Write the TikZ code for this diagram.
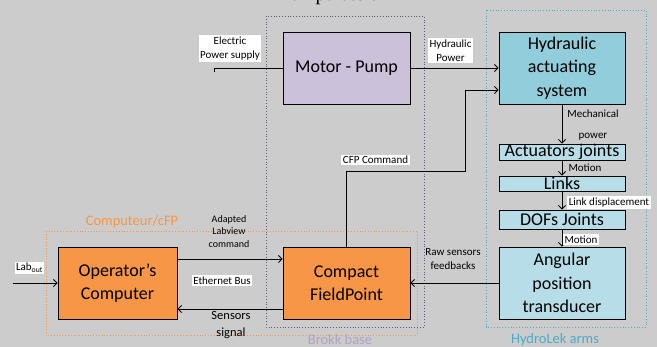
\documentclass[tikz,border=0pt]{standalone}
\usepackage{fontspec}
\setmainfont{Carlito}
\newfontfamily\titlefont{Liberation Serif}
\usepackage{tikz}
\usetikzlibrary{arrows.meta}
\definecolor{bggray}{RGB}{204,204,204}
\definecolor{lavender}{RGB}{204,193,218}
\definecolor{hydroblue}{RGB}{146,205,220}
\definecolor{lightblue}{RGB}{183,222,232}
\definecolor{cfporange}{RGB}{247,150,70}
\definecolor{brokkline}{RGB}{96,90,120}
\definecolor{brokktext}{RGB}{179,162,199}
\definecolor{armcyan}{RGB}{75,172,198}

\begin{document}
\begin{tikzpicture}[x=1pt,y=-1pt,
    block/.style={draw=black,line width=0.9pt,inner sep=0pt,align=center,font=\fontsize{18}{23.4}\selectfont},
    tag/.style={inner sep=1.5pt,align=center,font=\fontsize{11}{14}\selectfont},
    whitetag/.style={tag,fill=white},
    flow/.style={line width=0.8pt,-{Straight Barb[length=3.5pt,width=7pt]}},
    groupname/.style={font=\fontsize{14.5}{17}\selectfont}]
        % Background and page size
        \useasboundingbox (0,0) rectangle (657,347);
        \clip (0,0) rectangle (657,347);
        \fill[bggray] (0,0) rectangle (657,347);
        \node[font=\titlefont\fontsize{20}{24}\selectfont,anchor=base] (title) at (326,1) {manipulator.};
        % Draw group frames
        \draw[brokkline,dotted,line width=0.8pt] (266,16) rectangle (424,327);
        \draw[cfporange,dotted,line width=0.8pt] (46,231) rectangle (417,335);
        \draw[armcyan,dotted,line width=0.8pt] (486,10) rectangle (646,327);
        \node[groupname,text=cfporange] (grpcfp) at (132,222) {Computeur/cFP};
        \node[groupname,text=brokktext] (grpbrokk) at (340,340) {Brokk base};
        \node[groupname,text=armcyan] (grparms) at (555,340) {HydroLek arms};
        % Blocks
        \node[block,fill=lavender,minimum width=127,minimum height=72] (motor) at (346.5,68) {Motor - Pump};
        \node[block,fill=hydroblue,minimum width=126,minimum height=72] (hydro) at (562,68) {Hydraulic\\actuating\\system};
        \node[block,fill=lightblue,minimum width=126,minimum height=16] (actjoints) at (562,152) {Actuators joints};
        \node[block,fill=lightblue,minimum width=126,minimum height=15] (links) at (562,183.5) {Links};
        \node[block,fill=lightblue,minimum width=126,minimum height=19] (dofs) at (562,219.5) {DOFs Joints};
        \node[block,fill=lightblue,minimum width=126,minimum height=72] (angular) at (562,283) {Angular\\position\\transducer};
        \node[block,fill=cfporange,minimum width=127,minimum height=72] (cfp) at (346.5,283) {Compact\\FieldPoint};
        \node[block,fill=cfporange,minimum width=119,minimum height=72] (opcomp) at (117.5,283) {Operator's\\Computer};
        % Power chain
        \coordinate (elec) at (214,68);
        \draw[line width=0.8pt] ([yshift=-4pt]elec) -- (elec) -- (motor.west);
        \draw[flow] (motor) -- (hydro);
        \draw[flow] (hydro) -- (actjoints);
        \draw[flow] (actjoints) -- (links);
        \draw[flow] (links) -- (dofs);
        \draw[flow] (dofs) -- (angular);
        % Command and feedback loop
        \coordinate (cmdbend) at (465,171);
        \draw[flow] (cfp.north) |- (cmdbend) |- ([yshift=-22pt]hydro.west);
        \draw[flow] (angular) -- (cfp);
        \draw[flow] ([yshift=24pt]opcomp.east) -- ([yshift=24pt]cfp.west);
        \draw[flow] ([yshift=-26pt]cfp.west) -- ([yshift=-26pt]opcomp.east);
        \coordinate (labin) at (13,283);
        \draw[flow] (labin) -- (opcomp);
        % Labels on the connectors
        \node[whitetag] (lblelec) at (230,48.5) {Electric\\Power supply};
        \node[whitetag] (lblhyd) at (450.5,50.5) {Hydraulic\\Power};
        \node[whitetag] (lblcmd) at (375.5,160) {CFP Command};
        \node[tag] (lblmech) at (593,125.5) {Mechanical\\[7pt]power};
        \node[tag] (lblmot) at (585,168) {Motion};
        \node[whitetag] (lbllink) at (609,202.5) {Link displacement};
        \node[whitetag] (lblmot2) at (581,239.5) {Motion};
        \node[tag] (lblraw) at (453,259.5) {Raw sensors\\feedbacks};
        \node[tag,font=\fontsize{10}{12.5}\selectfont] (lbladapt) at (229,231.5) {Adapted\\Labview\\command};
        \node[whitetag] (lbleth) at (222,280.5) {Ethernet Bus};
        \node[tag,font=\fontsize{12.5}{17}\selectfont] (lblsens) at (231,325.5) {Sensors\\signal};
        \node[whitetag] (lbllab) at (29.5,268) {Lab\textsubscript{out}};
\end{tikzpicture}
\end{document}
